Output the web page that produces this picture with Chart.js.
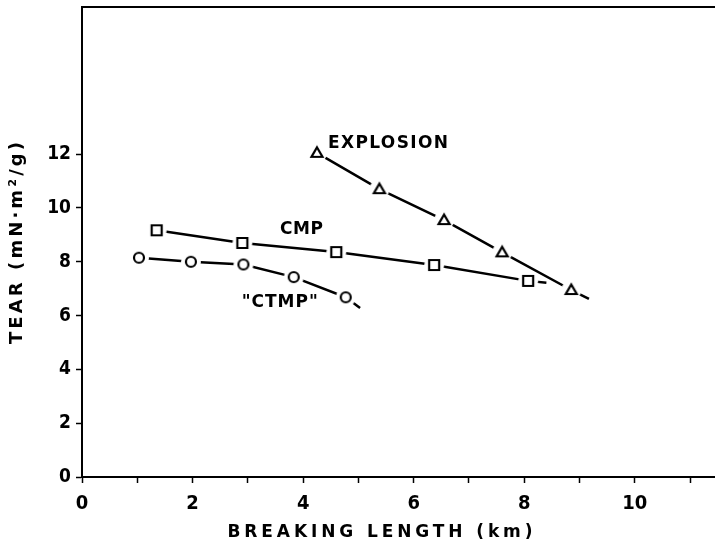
<!DOCTYPE html>
<html lang="en">
<head>
  <meta charset="utf-8">
  <title>Tear vs Breaking Length</title>
  <script src="https://cdn.jsdelivr.net/npm/chart.js"></script>
  <style>
    html, body { margin: 0; padding: 0; background: #fff; overflow: hidden; }
    #wrap { width: 715px; height: 548px; }
  </style>
</head>
<body>
  <div id="wrap"><canvas id="tearChart"></canvas></div>

  <script>
    // tick values
    const xTickValues = [0, 1, 2, 3, 4, 5, 6, 7, 8, 9, 10, 11];
    const yTickValues = [0, 2, 4, 6, 8, 10, 12];

    // pulp series: breaking length (km) / tear (mN·m²/g)
    const explosionX = [4.25, 5.38, 6.55, 7.6, 8.85];
    const explosionY = [12.05, 10.7, 9.55, 8.35, 6.95];
    const cmpX = [1.35, 2.9, 4.6, 6.37, 8.07];
    const cmpY = [9.17, 8.7, 8.36, 7.88, 7.29];
    const ctmpX = [1.03, 1.97, 2.92, 3.83, 4.77];
    const ctmpY = [8.15, 8.0, 7.9, 7.43, 6.68];

    // short trend continuations past the last point
    const explosionTailX = [8.85, 9.17];
    const explosionTailY = [6.95, 6.62];
    const cmpTailX = [8.07, 8.4];
    const cmpTailY = [7.29, 7.22];
    const ctmpTailX = [4.77, 5.03];
    const ctmpTailY = [6.68, 6.28];

    // curve labels: text, left x, centre y, width in px
    const curveLabels = [
      ['EXPLOSION', 4.45, 12.4, 120],
      ['CMP', 3.58, 9.2, 43],
      ['"CTMP"', 2.89, 6.5, 76]
    ];

    const toPoints = (xs, ys) => xs.map((x, i) => ({ x, y: ys[i] }));

    // open marker drawn over a white halo so the line stops short of it
    function makeMarker(shape) {
      const c = document.createElement('canvas');
      c.width = 26; c.height = 26;
      const g = c.getContext('2d');
      g.fillStyle = '#fff';
      g.beginPath(); g.arc(13, 13, 10, 0, Math.PI * 2); g.fill();
      g.strokeStyle = '#000';
      g.lineWidth = 2.2;
      g.beginPath();
      if (shape === 'circle') {
        g.arc(13, 13, 5, 0, Math.PI * 2);
      } else if (shape === 'square') {
        g.rect(8, 8, 10, 10);
      } else {
        g.moveTo(13, 7.5); g.lineTo(18.5, 17); g.lineTo(7.5, 17); g.closePath();
      }
      g.stroke();
      return c;
    }

    function series(xs, ys, shape) {
      return {
        data: toPoints(xs, ys),
        borderColor: '#000',
        borderWidth: 2.5,
        pointStyle: makeMarker(shape),
        pointRadius: 6,
        tension: 0,
        order: 1
      };
    }

    function tail(xs, ys) {
      return {
        data: toPoints(xs, ys),
        borderColor: '#000',
        borderWidth: 2.5,
        pointRadius: 0,
        tension: 0,
        order: 2
      };
    }

    // draw text spread out to a given width
    function spacedText(ctx, text, x, y, width, align) {
      ctx.letterSpacing = '0px';
      const raw = ctx.measureText(text).width;
      const gap = Math.max(0, (width - raw) / (text.length - 1));
      ctx.letterSpacing = gap + 'px';
      const left = align === 'center' ? x - width / 2 : x;
      ctx.textAlign = 'left';
      ctx.fillText(text, left, y);
    }

    // titles, curve labels and the top frame line
    const textPlugin = {
      id: 'textPlugin',
      afterDraw(chart) {
        const { ctx, chartArea, scales } = chart;
        ctx.save();
        ctx.strokeStyle = '#000';
        ctx.lineWidth = 2;
        ctx.beginPath();
        ctx.moveTo(chartArea.left - 1, chartArea.top);
        ctx.lineTo(chart.width, chartArea.top);
        ctx.stroke();

        ctx.fillStyle = '#000';
        ctx.textBaseline = 'middle';

        ctx.font = 'bold 17px "DejaVu Sans"';
        curveLabels.forEach(([t, x, y, w]) => {
          spacedText(ctx, t, scales.x.getPixelForValue(x), scales.y.getPixelForValue(y), w, 'left');
        });

        ctx.font = 'bold 17px "DejaVu Sans"';
        spacedText(ctx, 'BREAKING LENGTH (km)', 380, 533, 305, 'center');

        ctx.translate(17, 243);
        ctx.rotate(-Math.PI / 2);
        ctx.font = 'bold 18px "DejaVu Sans"';
        spacedText(ctx, 'TEAR (mN·m²/g)', 0, 0, 202, 'center');
        ctx.restore();
      }
    };

    window.onload = () => {
      new Chart(document.getElementById('tearChart'), {
        type: 'line',
        data: {
          datasets: [
            series(explosionX, explosionY, 'triangle'),
            series(cmpX, cmpY, 'square'),
            series(ctmpX, ctmpY, 'circle'),
            tail(explosionTailX, explosionTailY),
            tail(cmpTailX, cmpTailY),
            tail(ctmpTailX, ctmpTailY)
          ]
        },
        options: {
          responsive: true,
          maintainAspectRatio: false,
          animation: false,
          layout: { autoPadding: false, padding: { top: 7, right: 0, left: 0, bottom: 0 } },
          plugins: { legend: { display: false }, tooltip: { enabled: false } },
          scales: {
            x: {
              type: 'linear',
              min: 0,
              max: 11.45,
              afterBuildTicks: s => { s.ticks = xTickValues.map(v => ({ value: v })); },
              afterFit: s => { s.height = 71; s.paddingLeft = 0; s.paddingRight = 0; },
              grid: { drawOnChartArea: false, drawTicks: true, tickLength: 6, tickWidth: 1.5, color: '#000' },
              border: { display: true, color: '#000', width: 2 },
              ticks: {
                color: '#000',
                padding: 9,
                maxRotation: 0,
                autoSkip: false,
                font: { family: 'DejaVu Sans Condensed', size: 20, weight: 'bold' },
                callback: v => (v % 2 === 0 ? String(v) : '')
              }
            },
            y: {
              type: 'linear',
              min: 0,
              max: 17.47,
              afterBuildTicks: s => { s.ticks = yTickValues.map(v => ({ value: v })); },
              afterFit: s => { s.width = 82; s.paddingTop = 0; s.paddingBottom = 0; },
              grid: { drawOnChartArea: false, drawTicks: true, tickLength: 6, tickWidth: 1.5, color: '#000' },
              border: { display: true, color: '#000', width: 2 },
              ticks: {
                color: '#000',
                padding: 5,
                autoSkip: false,
                font: { family: 'DejaVu Sans Condensed', size: 19, weight: 'bold' }
              }
            }
          }
        },
        plugins: [textPlugin]
      });
    };
  </script>
</body>
</html>
